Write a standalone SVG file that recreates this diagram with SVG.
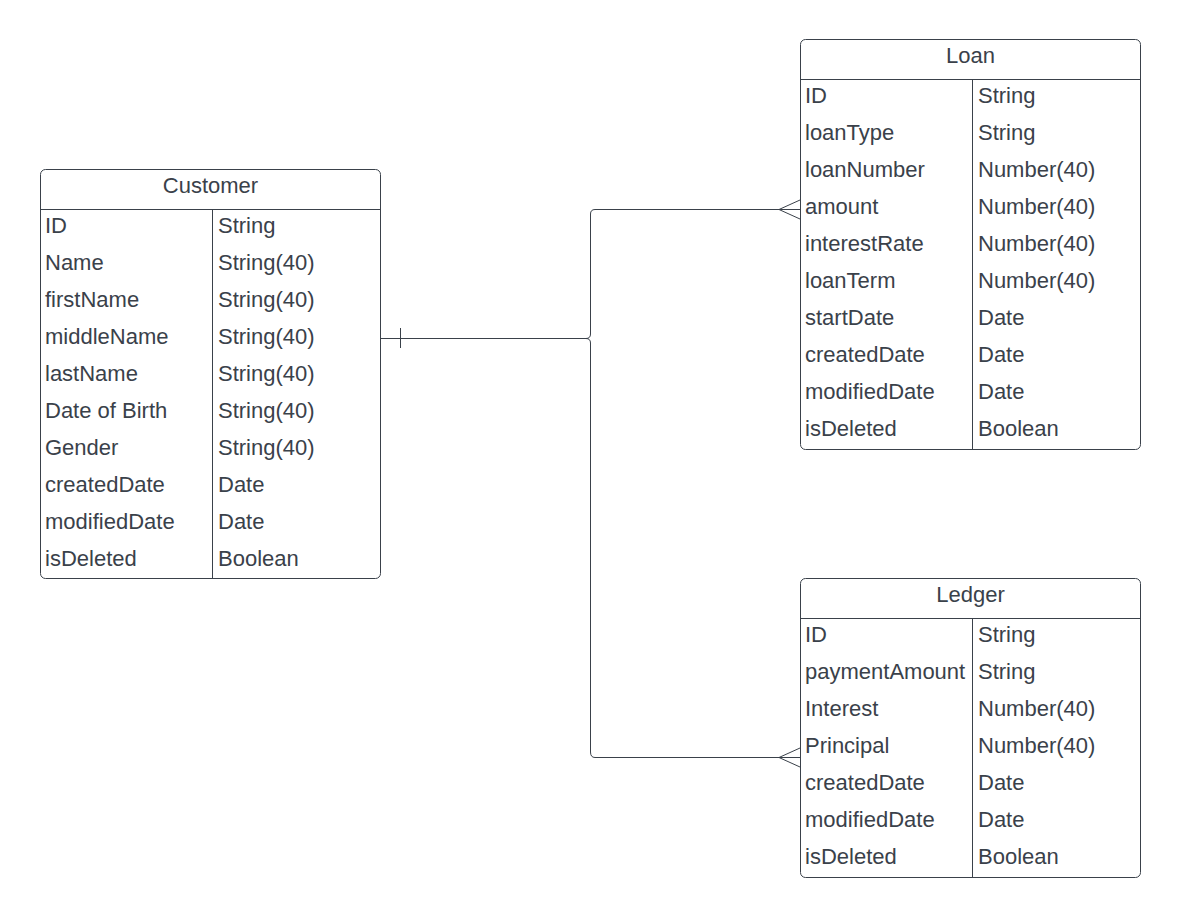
<svg xmlns="http://www.w3.org/2000/svg" width="1180" height="918" viewBox="0 0 1180 918">
<style>
.box{fill:#ffffff;stroke:#3a414a;stroke-width:1}
.ln{fill:none;stroke:#3a414a;stroke-width:1}
.t{font-family:"Liberation Sans",Arial,sans-serif;font-size:22px;fill:#3a414a}
.h{text-anchor:middle}
</style>
<rect width="1180" height="918" fill="#ffffff"/>
<g id="connectors">
<path class="ln" d="M380.5,338.5 H586 Q590.5,338.5 590.5,334 V214 Q590.5,209.5 595,209.5 H800"/>
<path class="ln" d="M586,338.5 Q590.5,338.5 590.5,343 V752 Q590.5,757.5 595,757.5 H800"/>
<path class="ln" d="M400.5,328 V348"/>
<path class="ln" d="M800,200 L779,209.5 L800,219"/>
<path class="ln" d="M800,748 L779,757.5 L800,767"/>
</g>
<g id="customer">
<rect class="box" x="40.5" y="169.5" width="340" height="409" rx="5"/>
<path class="ln" d="M40.5,209.5 H380.5 M212.5,209.5 V578.5"/>
<text class="t h" x="210.5" y="193">Customer</text>
<text class="t" x="45" y="232.5">ID</text><text class="t" x="218" y="232.5">String</text>
<text class="t" x="45" y="269.5">Name</text><text class="t" x="218" y="269.5">String(40)</text>
<text class="t" x="45" y="306.5">firstName</text><text class="t" x="218" y="306.5">String(40)</text>
<text class="t" x="45" y="343.5">middleName</text><text class="t" x="218" y="343.5">String(40)</text>
<text class="t" x="45" y="380.5">lastName</text><text class="t" x="218" y="380.5">String(40)</text>
<text class="t" x="45" y="417.5">Date of Birth</text><text class="t" x="218" y="417.5">String(40)</text>
<text class="t" x="45" y="454.5">Gender</text><text class="t" x="218" y="454.5">String(40)</text>
<text class="t" x="45" y="491.5">createdDate</text><text class="t" x="218" y="491.5">Date</text>
<text class="t" x="45" y="528.5">modifiedDate</text><text class="t" x="218" y="528.5">Date</text>
<text class="t" x="45" y="565.5">isDeleted</text><text class="t" x="218" y="565.5">Boolean</text>
</g>
<g id="loan">
<rect class="box" x="800.5" y="39.5" width="340" height="410" rx="5"/>
<path class="ln" d="M800.5,79.5 H1140.5 M972.5,79.5 V449.5"/>
<text class="t h" x="970.5" y="63">Loan</text>
<text class="t" x="805" y="102.5">ID</text><text class="t" x="978" y="102.5">String</text>
<text class="t" x="805" y="139.5">loanType</text><text class="t" x="978" y="139.5">String</text>
<text class="t" x="805" y="176.5">loanNumber</text><text class="t" x="978" y="176.5">Number(40)</text>
<text class="t" x="805" y="213.5">amount</text><text class="t" x="978" y="213.5">Number(40)</text>
<text class="t" x="805" y="250.5">interestRate</text><text class="t" x="978" y="250.5">Number(40)</text>
<text class="t" x="805" y="287.5">loanTerm</text><text class="t" x="978" y="287.5">Number(40)</text>
<text class="t" x="805" y="324.5">startDate</text><text class="t" x="978" y="324.5">Date</text>
<text class="t" x="805" y="361.5">createdDate</text><text class="t" x="978" y="361.5">Date</text>
<text class="t" x="805" y="398.5">modifiedDate</text><text class="t" x="978" y="398.5">Date</text>
<text class="t" x="805" y="435.5">isDeleted</text><text class="t" x="978" y="435.5">Boolean</text>
</g>
<g id="ledger">
<rect class="box" x="800.5" y="578.5" width="340" height="299" rx="5"/>
<path class="ln" d="M800.5,618.5 H1140.5 M972.5,618.5 V877.5"/>
<text class="t h" x="970.5" y="602">Ledger</text>
<text class="t" x="805" y="641.5">ID</text><text class="t" x="978" y="641.5">String</text>
<text class="t" x="805" y="678.5">paymentAmount</text><text class="t" x="978" y="678.5">String</text>
<text class="t" x="805" y="715.5">Interest</text><text class="t" x="978" y="715.5">Number(40)</text>
<text class="t" x="805" y="752.5">Principal</text><text class="t" x="978" y="752.5">Number(40)</text>
<text class="t" x="805" y="789.5">createdDate</text><text class="t" x="978" y="789.5">Date</text>
<text class="t" x="805" y="826.5">modifiedDate</text><text class="t" x="978" y="826.5">Date</text>
<text class="t" x="805" y="863.5">isDeleted</text><text class="t" x="978" y="863.5">Boolean</text>
</g>
</svg>
